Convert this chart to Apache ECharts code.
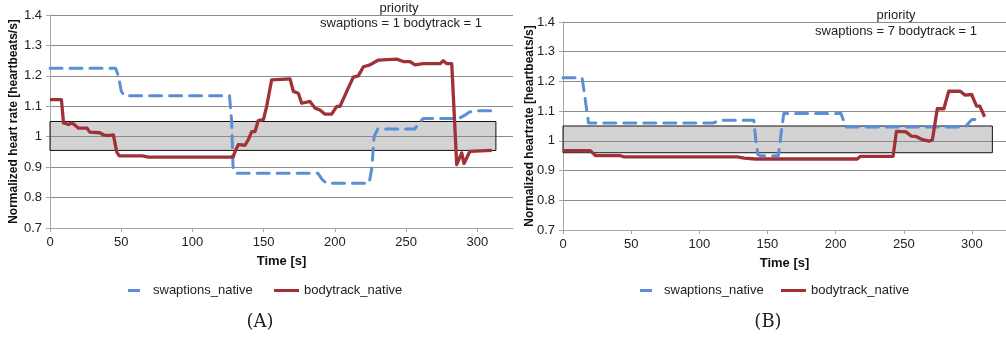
<!DOCTYPE html>
<html>
<head>
<meta charset="utf-8">
<script src="https://cdn.jsdelivr.net/npm/echarts@6/dist/echarts.min.js"></script>
<style>
  html, body { margin: 0; padding: 0; background: #fff; }
  #chart { width: 1006px; height: 343px; }
</style>
</head>
<body>
<div id="chart"></div>
<script>
// Time ticks shared by both panels
const timeTicks = [0, 50, 100, 150, 200, 250, 300];
const rateTicks = [0.7, 0.8, 0.9, 1.0, 1.1, 1.2, 1.3, 1.4];

// Target band (normalized heart rate window)
const bandA = { t0: 0, t1: 313, lo: 0.955, hi: 1.05 };
const bandB = { t0: 0, t1: 315, lo: 0.96, hi: 1.05 };

// Panel A: priority swaptions = 1, bodytrack = 1  ([time s, normalized rate])
const swaptionsA = [
  [0, 1.225], [46, 1.225], [48, 1.2], [50, 1.15], [52, 1.135], [126, 1.135],
  [127.5, 1.05], [128.5, 0.9], [130, 0.88], [188, 0.88], [191, 0.86], [194, 0.847],
  [224, 0.847], [226, 0.9], [227.5, 1.0], [230, 1.025], [256, 1.025], [259, 1.045],
  [262, 1.06], [287, 1.06], [291, 1.07], [294, 1.08], [297, 1.085], [310, 1.085]
];
const bodytrackA = [
  [0, 1.122], [8, 1.122], [9.5, 1.045], [13, 1.04], [15, 1.045], [17, 1.04],
  [20, 1.028], [24, 1.028], [26, 1.028], [28, 1.015], [35, 1.013], [38, 1.005],
  [42, 1.004], [44.5, 1.006], [46.8, 0.95], [48.6, 0.937], [65, 0.937], [69, 0.933],
  [128.5, 0.933], [130, 0.952], [132.2, 0.974], [136.9, 0.972], [139.2, 0.99],
  [141.6, 1.017], [143.9, 1.017], [146.2, 1.053], [149.8, 1.056], [152.1, 1.1],
  [155.6, 1.187], [168.5, 1.19], [170.8, 1.149], [174.3, 1.143], [176.7, 1.11],
  [182.5, 1.116], [186, 1.094], [189.5, 1.088], [193, 1.074], [197.7, 1.074],
  [201.3, 1.1], [203.6, 1.1], [208.3, 1.149], [212.9, 1.196], [216.4, 1.2],
  [220, 1.23], [224.6, 1.236], [230.5, 1.252], [243.4, 1.255], [248, 1.247],
  [252.7, 1.247], [256.2, 1.236], [262.1, 1.24], [273.8, 1.24], [276.1, 1.25],
  [278.5, 1.24], [282, 1.24], [285.5, 0.908], [289, 0.947], [290.6, 0.912],
  [294.8, 0.952], [310, 0.955]
];

// Panel B: priority swaptions = 7, bodytrack = 1
const swaptionsB = [
  [0, 1.212], [14, 1.212], [16, 1.15], [18.7, 1.06], [110, 1.06], [115, 1.069],
  [140, 1.069], [141.5, 1.0], [143, 0.954], [145, 0.95], [158, 0.95], [160.7, 1.05],
  [162, 1.092], [204, 1.092], [207.5, 1.047], [295, 1.047], [300, 1.072], [308, 1.072]
];
const bodytrackB = [
  [0, 0.967], [20, 0.967], [24, 0.95], [42, 0.95], [45, 0.946], [128, 0.946],
  [133, 0.942], [141, 0.939], [215.8, 0.939], [218.3, 0.948], [242.2, 0.948],
  [244.6, 1.032], [251.8, 1.03], [255.4, 1.016], [259, 1.015], [263.8, 1.004],
  [268.6, 0.999], [271, 1.004], [274.6, 1.108], [279.4, 1.108], [283, 1.167],
  [291.4, 1.167], [295, 1.154], [299.8, 1.156], [303.4, 1.117], [305.8, 1.117],
  [309.3, 1.081]
];

const BLUE = '#5a8fd6';
const RED = '#a03237';
const FONT = 'Liberation Sans, Arial, sans-serif';
const SERIF = 'DejaVu Serif, Liberation Serif, serif';
const GRID_LINE = '#8c8c8c';
const AXIS_LINE = '#a6a6a6';

function xAxisFor(gridIndex) {
  return {
    type: 'value', gridIndex, min: 0, max: 325, interval: 50,
    name: 'Time [s]', nameLocation: 'middle', nameGap: 27,
    nameTextStyle: { fontFamily: FONT, fontSize: 13, fontWeight: 'bold', color: '#111' },
    axisLine: { show: true, lineStyle: { color: AXIS_LINE, width: 1 } },
    axisTick: { show: true, length: 4, lineStyle: { color: AXIS_LINE }, customValues: timeTicks },
    axisLabel: { fontFamily: FONT, fontSize: 13, color: '#222', margin: 8, customValues: timeTicks },
    splitLine: { show: false }
  };
}
function yAxisFor(gridIndex, name, gap) {
  return {
    type: 'value', gridIndex, min: 0.7, max: 1.4, interval: 0.1,
    name, nameLocation: 'middle', nameGap: gap, nameRotate: 90, nameMoveOverlap: false,
    nameTextStyle: { fontFamily: FONT, fontSize: 12, fontWeight: 'bold', color: '#111' },
    axisLine: { show: true, lineStyle: { color: AXIS_LINE, width: 1 } },
    axisTick: { show: true, length: 4, lineStyle: { color: AXIS_LINE } },
    axisLabel: { fontFamily: FONT, fontSize: 13, color: '#222', margin: 8,
      customValues: rateTicks, formatter: v => String(+v.toFixed(1)) },
    splitLine: { show: true, lineStyle: { color: GRID_LINE, width: 1 } }
  };
}
function bandArea(b) {
  return {
    silent: true,
    itemStyle: { color: 'rgba(140,140,140,0.38)', borderColor: '#111', borderWidth: 1 },
    data: [[{ xAxis: b.t0, yAxis: b.hi }, { xAxis: b.t1, yAxis: b.lo }]]
  };
}
function lineSeries(name, data, idx, color, dashed, band) {
  const s = {
    name, type: 'line', data, xAxisIndex: idx, yAxisIndex: idx,
    symbol: 'none', showSymbol: false, smooth: false, color,
    lineStyle: { color, width: dashed ? 3 : 3.3, type: dashed ? [12, 8] : 'solid', cap: dashed ? 'round' : 'butt', join: 'round' },
    z: 3
  };
  if (band) s.markArea = bandArea(band);
  return s;
}
function legendAt(name, left, width, padLeft) {
  return {
    data: [{ name, icon: 'rect' }], left, top: 284, padding: 0,
    itemWidth: width, itemHeight: 3, selectedMode: false,
    textStyle: { fontFamily: FONT, fontSize: 13, color: '#222', padding: [0, 0, 0, padLeft] }
  };
}
function label(text, x, y, size, family) {
  return { type: 'text', x, y, style: { text, fontFamily: family || FONT, fontSize: size, fill: '#222', align: 'center' } };
}

const chart = echarts.init(document.getElementById('chart'), null, { renderer: 'canvas' });
chart.setOption({
  backgroundColor: '#fff',
  animation: false,
  grid: [
    { left: 50, top: 15, width: 463, height: 213 },
    { left: 563, top: 22, width: 452, height: 208 }
  ],
  xAxis: [xAxisFor(0), xAxisFor(1)],
  yAxis: [
    yAxisFor(0, 'Normalized heart rate [heartbeats/s]', 30),
    yAxisFor(1, 'Normalized heartrate [heartbeats/s]', 27)
  ],
  legend: [
    legendAt('swaptions_native', 128, 12, 8),
    legendAt('bodytrack_native', 274, 25, 0),
    legendAt('swaptions_native', 640, 12, 7),
    legendAt('bodytrack_native', 781, 25, 0)
  ],
  series: [
    lineSeries('swaptions_native', swaptionsA, 0, BLUE, true, bandA),
    lineSeries('bodytrack_native', bodytrackA, 0, RED, false),
    lineSeries('swaptions_native', swaptionsB, 1, BLUE, true, bandB),
    lineSeries('bodytrack_native', bodytrackB, 1, RED, false)
  ],
  graphic: [
    label('priority', 399, 2, 13),
    label('swaptions = 1 bodytrack = 1', 401, 17, 13),
    label('priority', 896, 9, 13),
    label('swaptions = 7 bodytrack = 1', 896, 25, 13),
    label('(A)', 260, 313, 18, SERIF),
    label('(B)', 768, 313, 18, SERIF)
  ]
});
</script>
</body>
</html>
